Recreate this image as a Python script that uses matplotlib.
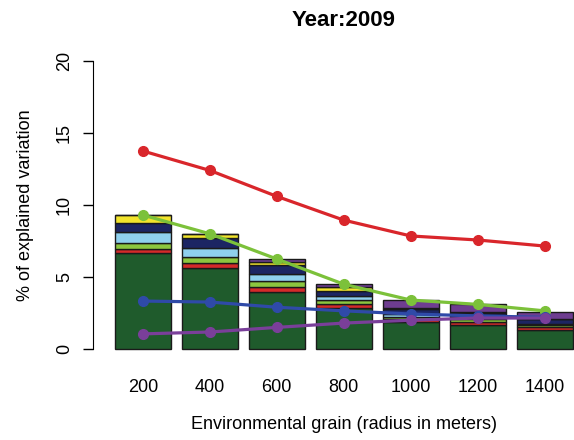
import matplotlib

matplotlib.use("Agg")
import matplotlib.pyplot as plt
import numpy as np

plt.rcParams["font.family"] = ["Liberation Sans", "DejaVu Sans"]

grains = ["200", "400", "600", "800", "1000", "1200", "1400"]

# stacked bar segments, bottom to top
dark_green = [6.67, 5.60, 3.94, 2.82, 1.85, 1.67, 1.35]
red_seg = [0.28, 0.37, 0.39, 0.30, 0.25, 0.23, 0.20]
lime_seg = [0.41, 0.43, 0.41, 0.28, 0.15, 0.15, 0.10]
light_blue = [0.74, 0.60, 0.45, 0.30, 0.20, 0.15, 0.10]
navy_seg = [0.65, 0.70, 0.64, 0.35, 0.30, 0.30, 0.30]
yellow_seg = [0.55, 0.30, 0.23, 0.28, 0.10, 0.05, 0.05]
purple_seg = [0.00, 0.00, 0.17, 0.16, 0.55, 0.57, 0.50]

# overlaid lines
red_line = [13.75, 12.4, 10.6, 8.95, 7.85, 7.57, 7.15]
green_line = [9.3, 8.0, 6.25, 4.5, 3.4, 3.1, 2.65]
blue_line = [3.33, 3.26, 2.9, 2.65, 2.43, 2.3, 2.2]
purple_line = [1.05, 1.18, 1.5, 1.8, 2.0, 2.15, 2.15]

segments = [
    (dark_green, "#1f5b2c"),
    (red_seg, "#d42a2a"),
    (lime_seg, "#8cc63f"),
    (light_blue, "#8fd0ee"),
    (navy_seg, "#1c2563"),
    (yellow_seg, "#f2e42c"),
    (purple_seg, "#6e3d90"),
]

W, H = 574, 440
fig = plt.figure(figsize=(W / 100, H / 100), dpi=100)

# plot region mimics R barplot geometry (extends past the right edge)
x_left_px = 96.7
x_right_px = 590.8
y0_px, y20_px = 349, 61
ppu_y = (y0_px - y20_px) / 20
ymin, ymax = -0.8, 20.8
bottom_px = y0_px + (0 - ymin) * ppu_y
top_px = y20_px - (ymax - 20) * ppu_y
ax = fig.add_axes([
    x_left_px / W,
    (H - bottom_px) / H,
    (x_right_px - x_left_px) / W,
    (bottom_px - top_px) / H,
])

for side in ("top", "right", "bottom"):
    ax.spines[side].set_visible(False)
ax.spines["left"].set_position(("outward", 3))
ax.spines["left"].set_bounds(0, 20)

centers = 0.7 + 1.2 * np.arange(len(grains))
bottom = np.zeros(len(grains))
for values, color in segments:
    ax.bar(centers, values, width=1.0, bottom=bottom, color=color,
           edgecolor="#1a1a1a", linewidth=1.0, zorder=2)
    bottom += np.array(values)

line_styles = [
    (red_line, "#d9262b"),
    (green_line, "#7cc13a"),
    (blue_line, "#2f4aa8"),
    (purple_line, "#7a3f9a"),
]
for values, color in line_styles:
    ax.plot(centers, values, color=color, linewidth=2.3, marker="o",
            markersize=7, zorder=3)

ax.set_xlim(-0.128, 8.728)
ax.set_ylim(ymin, ymax)
ax.set_xticks(centers)
ax.set_xticklabels(grains, fontsize=13)
ax.tick_params(axis="x", length=0, pad=13)
ax.set_yticks([0, 5, 10, 15, 20])
ax.set_yticklabels(["0", "5", "10", "15", "20"], fontsize=13, rotation=90,
                   va="center")
ax.tick_params(axis="y", length=7, width=1, pad=7, labelsize=13)

ax.set_title("Year:2009", fontsize=16, fontweight="bold", pad=17)
ax.set_xlabel("Environmental grain (radius in meters)", fontsize=13, labelpad=15)
ax.set_ylabel("% of explained variation", fontsize=13, labelpad=16)

fig.savefig("out.png", dpi=100)
